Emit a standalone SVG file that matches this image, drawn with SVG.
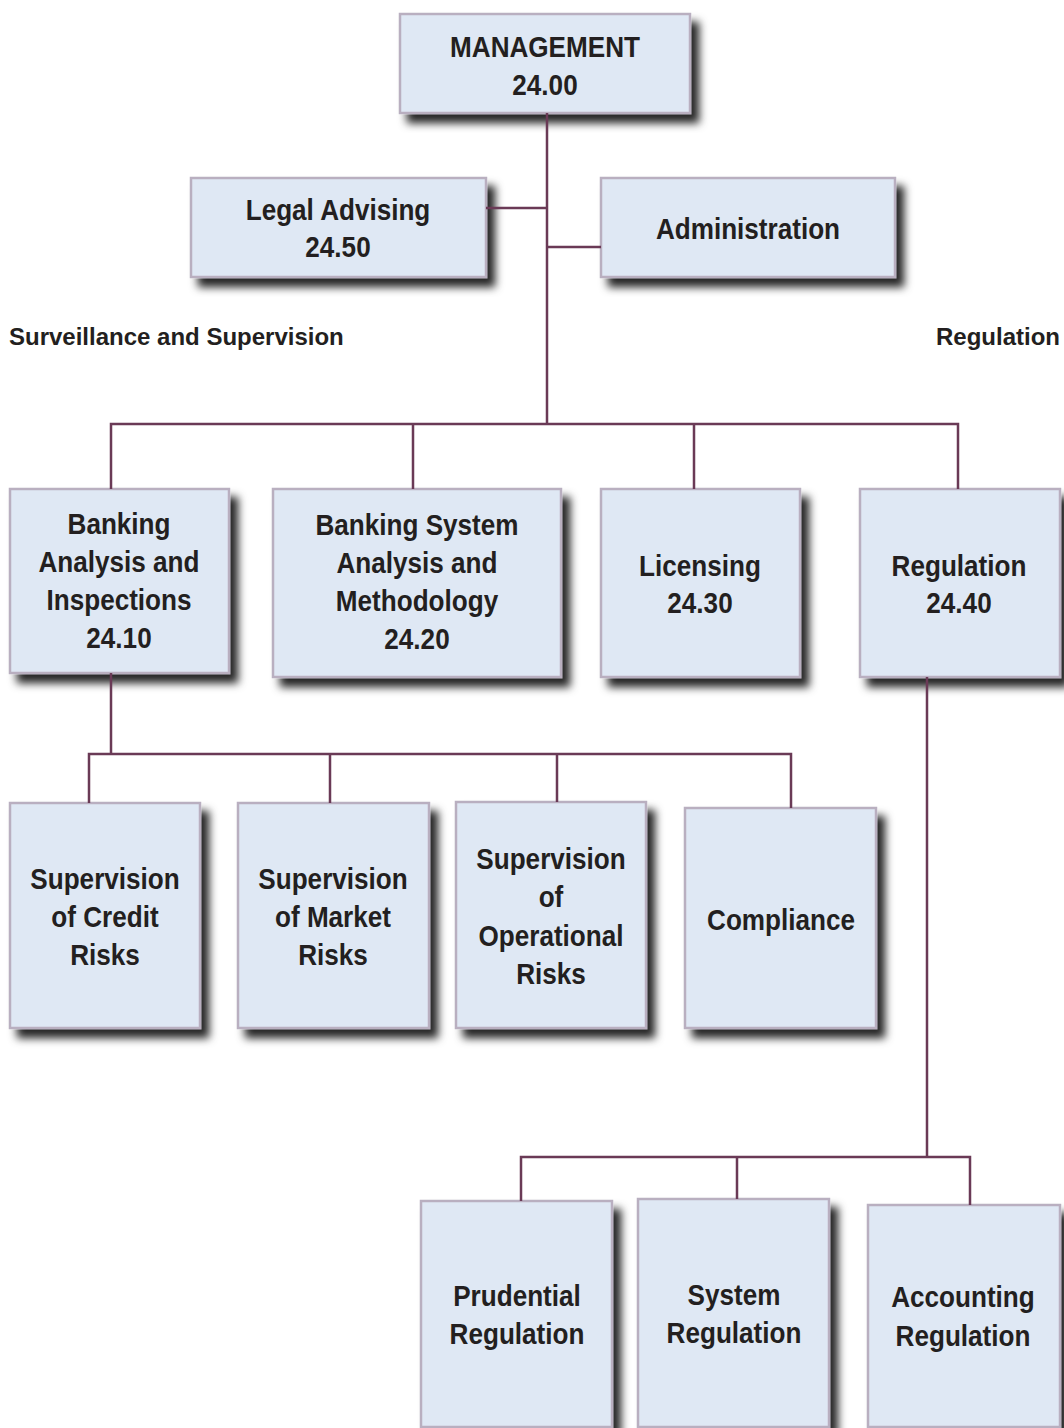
<svg xmlns="http://www.w3.org/2000/svg" width="1064" height="1428" viewBox="0 0 1064 1428">
<defs>
<filter id="sh" x="-10%" y="-10%" width="130%" height="130%">
<feDropShadow dx="8" dy="9" stdDeviation="4.5" flood-color="#000" flood-opacity="0.85"/>
</filter>
<style>
.box{fill:#dfe8f4;stroke:#b9afc0;stroke-width:2.5;filter:url(#sh)}
.t{font-family:"Liberation Sans",Arial,sans-serif;font-weight:bold;font-size:30px;fill:#231f20;text-anchor:middle}
.lbl{font-family:"Liberation Sans",Arial,sans-serif;font-weight:bold;font-size:24px;fill:#231f20}
.con{fill:none;stroke:#6a3a56;stroke-width:2.5}
</style>
</defs>
<rect width="1064" height="1428" fill="#fff"/>
<g id="labels">
<text class="lbl" x="9" y="345">Surveillance and Supervision</text>
<text class="lbl" x="936" y="345">Regulation</text>
</g>
<g id="management"><rect class="box" x="400" y="14" width="290" height="99"/>
<text class="t" transform="translate(545,57) scale(0.87,1)"><tspan x="0">MANAGEMENT</tspan><tspan x="0" dy="38">24.00</tspan></text></g>
<g id="legal"><rect class="box" x="191" y="178" width="295" height="99"/>
<text class="t" transform="translate(338,220) scale(0.87,1)"><tspan x="0">Legal Advising</tspan><tspan x="0" dy="37">24.50</tspan></text></g>
<g id="administration"><rect class="box" x="601" y="178" width="294" height="99"/>
<text class="t" transform="translate(748,239) scale(0.87,1)"><tspan x="0">Administration</tspan></text></g>
<g id="banking-analysis"><rect class="box" x="10" y="489" width="219" height="184"/>
<text class="t" transform="translate(119,534) scale(0.87,1)"><tspan x="0">Banking</tspan><tspan x="0" dy="38">Analysis and</tspan><tspan x="0" dy="38">Inspections</tspan><tspan x="0" dy="38">24.10</tspan></text></g>
<g id="banking-system"><rect class="box" x="273" y="489" width="288" height="188"/>
<text class="t" transform="translate(417,535) scale(0.87,1)"><tspan x="0">Banking System</tspan><tspan x="0" dy="38">Analysis and</tspan><tspan x="0" dy="38">Methodology</tspan><tspan x="0" dy="38">24.20</tspan></text></g>
<g id="licensing"><rect class="box" x="601" y="489" width="199" height="188"/>
<text class="t" transform="translate(700,576) scale(0.87,1)"><tspan x="0">Licensing</tspan><tspan x="0" dy="37">24.30</tspan></text></g>
<g id="regulation"><rect class="box" x="860" y="489" width="200" height="188"/>
<text class="t" transform="translate(959,576) scale(0.87,1)"><tspan x="0">Regulation</tspan><tspan x="0" dy="37">24.40</tspan></text></g>
<g id="credit"><rect class="box" x="10" y="803" width="190" height="225"/>
<text class="t" transform="translate(105,889) scale(0.87,1)"><tspan x="0">Supervision</tspan><tspan x="0" dy="38">of Credit</tspan><tspan x="0" dy="38">Risks</tspan></text></g>
<g id="market"><rect class="box" x="238" y="803" width="191" height="225"/>
<text class="t" transform="translate(333,889) scale(0.87,1)"><tspan x="0">Supervision</tspan><tspan x="0" dy="38">of Market</tspan><tspan x="0" dy="38">Risks</tspan></text></g>
<g id="operational"><rect class="box" x="456" y="802" width="190" height="226"/>
<text class="t" transform="translate(551,869) scale(0.87,1)"><tspan x="0">Supervision</tspan><tspan x="0" dy="38">of</tspan><tspan x="0" dy="39">Operational</tspan><tspan x="0" dy="38">Risks</tspan></text></g>
<g id="compliance"><rect class="box" x="685" y="808" width="191" height="220"/>
<text class="t" transform="translate(781,930) scale(0.87,1)"><tspan x="0">Compliance</tspan></text></g>
<g id="prudential"><rect class="box" x="421" y="1201" width="191" height="226"/>
<text class="t" transform="translate(517,1306) scale(0.87,1)"><tspan x="0">Prudential</tspan><tspan x="0" dy="38">Regulation</tspan></text></g>
<g id="system"><rect class="box" x="638" y="1199" width="191" height="228"/>
<text class="t" transform="translate(734,1305) scale(0.87,1)"><tspan x="0">System</tspan><tspan x="0" dy="38">Regulation</tspan></text></g>
<g id="accounting"><rect class="box" x="868" y="1205" width="192" height="222"/>
<text class="t" transform="translate(963,1307) scale(0.87,1)"><tspan x="0">Accounting</tspan><tspan x="0" dy="39">Regulation</tspan></text></g>
<g id="connectors" class="con">
<path class="con" d="M547 113V424M486 208H547M547 247H601M111 489V424H958V489M413 424V489M694 424V489"/>
<path class="con" d="M111 673V754M89 803V754H791V808M330 754V803M557 754V802"/>
<path class="con" d="M927 677V1157M521 1201V1157H970V1205M737 1157V1199"/>
</g>
</svg>
